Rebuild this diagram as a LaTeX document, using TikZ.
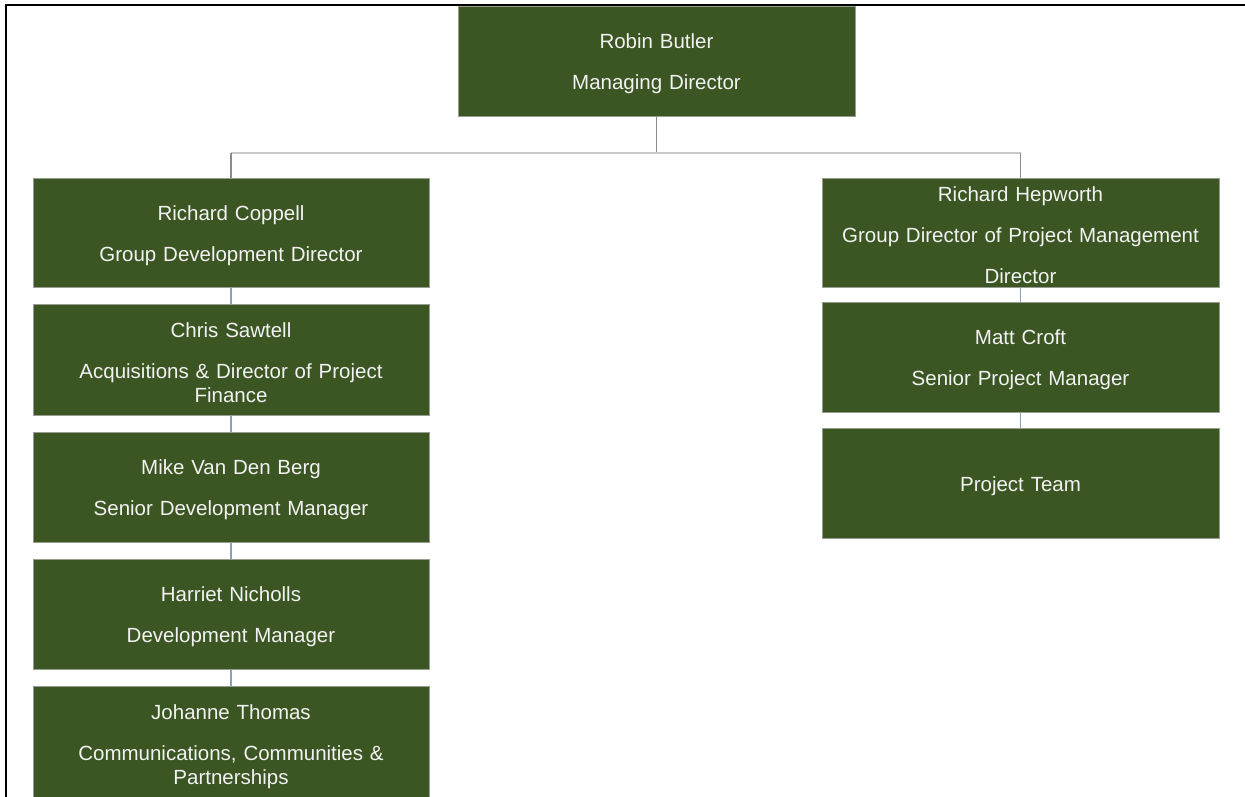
\documentclass[tikz,border=0pt]{standalone}
\usepackage{fontspec}
\newfontfamily\boxfont{Liberation Sans}
\definecolor{boxgreen}{RGB}{59,86,35}
\definecolor{boxedge}{RGB}{150,158,145}
\definecolor{boxtext}{RGB}{242,242,242}
\definecolor{hgrey}{RGB}{200,200,200}
\definecolor{vgrey}{RGB}{140,140,140}
\definecolor{bgrey}{RGB}{140,160,182}
\tikzset{
  orgbox/.style={rectangle, fill=boxgreen, draw=boxedge, line width=0.8pt,
    text=boxtext, align=center, inner sep=0pt, text height=21pt,
    font={\boxfont\fontsize{20.5}{24}\selectfont}},
  leftbox/.style={orgbox, minimum width=396, text width=390},
  rightbox/.style={orgbox, minimum width=397, text width=390},
  hline/.style={draw=hgrey, line width=2pt},
  vline/.style={draw=vgrey, line width=1.6pt},
  bline/.style={draw=bgrey, line width=1.6pt},
  frame/.style={draw=black, line width=2.2pt}
}
\begin{document}
\begin{tikzpicture}[x=1pt, y=-1pt]
\useasboundingbox (0,0) rectangle (1245,796);
\clip (0,0) rectangle (1245,796);
\fill[white] (0,0) rectangle (1245,796);
% frame
\coordinate (ftl) at (6,5);
\coordinate (ftr) at (1246,5);
\coordinate (fbl) at (6,797);
\draw[frame] (ftr) -- (ftl) -- (fbl);
% boxes
\node[orgbox, minimum width=397, text width=390, minimum height=110] (robin) at (656.5,61) {Robin Butler\\[17pt]Managing Director};
\node[leftbox, minimum height=109] (coppell) at (231,232.5) {Richard Coppell\\[17pt]Group Development Director};
\node[leftbox, minimum height=111] (sawtell) at (231,359.5) {Chris Sawtell\\[17pt]Acquisitions \& Director of Project\\Finance};
\node[leftbox, minimum height=110] (vdb) at (231,487) {Mike Van Den Berg\\[17pt]Senior Development Manager};
\node[leftbox, minimum height=110] (nicholls) at (231,614) {Harriet Nicholls\\[17pt]Development Manager};
\node[leftbox, minimum height=115] (thomas) at (231,743.5) {Johanne Thomas\\[17pt]Communications, Communities \&\\Partnerships};
\node[rightbox, minimum height=109] (hepworth) at (1020.5,232.5) {Richard Hepworth\\[17pt]Group Director of Project Management\\[17pt]Director};
\node[rightbox, minimum height=110] (croft) at (1020.5,357) {Matt Croft\\[17pt]Senior Project Manager};
\node[rightbox, minimum height=110] (team) at (1020.5,483) {Project Team};
% connectors
\coordinate (hy) at (0,153);
\draw[vline] (robin.south) -- (robin.south |- hy);
\draw[hline] (coppell.north |- hy) -- (hepworth.north |- hy);
\draw[vline] (coppell.north |- hy) -- (coppell.north);
\draw[vline] (hepworth.north |- hy) -- (hepworth.north);
\draw[bline] (coppell.south) -- (sawtell.north);
\draw[bline] (sawtell.south) -- (vdb.north);
\draw[bline] (vdb.south) -- (nicholls.north);
\draw[bline] (nicholls.south) -- (thomas.north);
\draw[bline] (hepworth.south) -- (croft.north);
\draw[bline] (croft.south) -- (team.north);
\end{tikzpicture}
\end{document}
